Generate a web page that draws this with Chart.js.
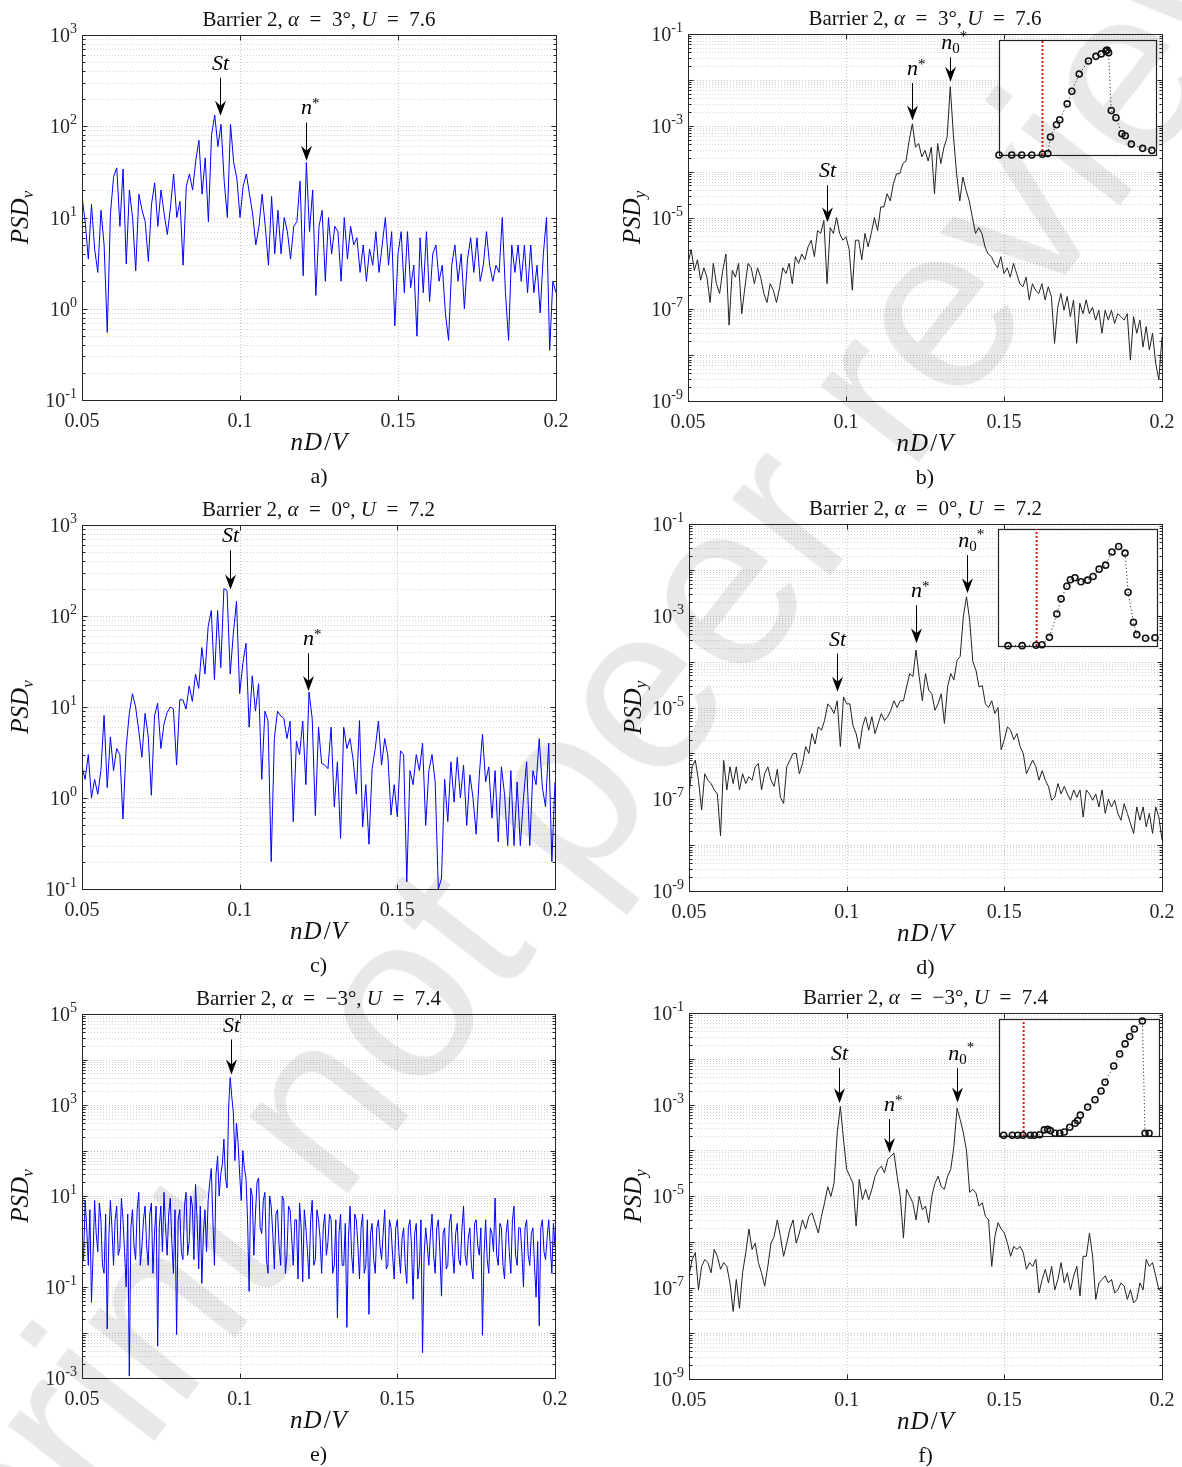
<!DOCTYPE html>
<html>
<head>
<meta charset="utf-8">
<script src="https://cdn.jsdelivr.net/npm/chart.js@4.4.1/dist/chart.umd.min.js"></script>
<style>
  body { margin: 0; background: #fff; }
  #page { position: relative; width: 1182px; height: 1467px; overflow: hidden; background: #fff; }
  #page canvas { position: absolute; }
  #wm {
    position: absolute; left: 575px; top: 770px;
    transform: translate(-50%, -50%) rotate(-52deg);
    font: 235px "Liberation Sans", Arial, sans-serif;
    color: rgba(0, 0, 0, 0.09); white-space: nowrap; pointer-events: none;
  }
</style>
</head>
<body>
<div id="page"></div>
<script>
/**
 * DATA
 */
// frequency bins nD/V used by spectra a-d and f
const freqBins = [
  0.050, 0.051, 0.052, 0.053, 0.054, 0.055, 0.056, 0.057, 0.058, 0.059,
  0.060, 0.061, 0.062, 0.063, 0.064, 0.065, 0.066, 0.067, 0.068, 0.069,
  0.070, 0.071, 0.072, 0.073, 0.074, 0.075, 0.076, 0.077, 0.078, 0.079,
  0.080, 0.081, 0.082, 0.083, 0.084, 0.085, 0.086, 0.087, 0.088, 0.089,
  0.090, 0.091, 0.092, 0.093, 0.094, 0.095, 0.096, 0.097, 0.098, 0.099,
  0.100, 0.101, 0.102, 0.103, 0.104, 0.105, 0.106, 0.107, 0.108, 0.109,
  0.110, 0.111, 0.112, 0.113, 0.114, 0.115, 0.116, 0.117, 0.118, 0.119,
  0.120, 0.121, 0.122, 0.123, 0.124, 0.125, 0.126, 0.127, 0.128, 0.129,
  0.130, 0.131, 0.132, 0.133, 0.134, 0.135, 0.136, 0.137, 0.138, 0.139,
  0.140, 0.141, 0.142, 0.143, 0.144, 0.145, 0.146, 0.147, 0.148, 0.149,
  0.150, 0.151, 0.152, 0.153, 0.154, 0.155, 0.156, 0.157, 0.158, 0.159,
  0.160, 0.161, 0.162, 0.163, 0.164, 0.165, 0.166, 0.167, 0.168, 0.169,
  0.170, 0.171, 0.172, 0.173, 0.174, 0.175, 0.176, 0.177, 0.178, 0.179,
  0.180, 0.181, 0.182, 0.183, 0.184, 0.185, 0.186, 0.187, 0.188, 0.189,
  0.190, 0.191, 0.192, 0.193, 0.194, 0.195, 0.196, 0.197, 0.198, 0.199,
  0.200
];

// finer bins for spectrum e (much denser trace)
const freqBinsFine = [
  0.0500, 0.0505, 0.0510, 0.0515, 0.0520, 0.0525, 0.0530, 0.0535, 0.0540, 0.0545,
  0.0550, 0.0555, 0.0560, 0.0565, 0.0570, 0.0575, 0.0580, 0.0585, 0.0590, 0.0595,
  0.0600, 0.0605, 0.0610, 0.0615, 0.0620, 0.0625, 0.0630, 0.0635, 0.0640, 0.0645,
  0.0650, 0.0655, 0.0660, 0.0665, 0.0670, 0.0675, 0.0680, 0.0685, 0.0690, 0.0695,
  0.0700, 0.0705, 0.0710, 0.0715, 0.0720, 0.0725, 0.0730, 0.0735, 0.0740, 0.0745,
  0.0750, 0.0755, 0.0760, 0.0765, 0.0770, 0.0775, 0.0780, 0.0785, 0.0790, 0.0795,
  0.0800, 0.0805, 0.0810, 0.0815, 0.0820, 0.0825, 0.0830, 0.0835, 0.0840, 0.0845,
  0.0850, 0.0855, 0.0860, 0.0865, 0.0870, 0.0875, 0.0880, 0.0885, 0.0890, 0.0895,
  0.0900, 0.0905, 0.0910, 0.0915, 0.0920, 0.0925, 0.0930, 0.0935, 0.0940, 0.0945,
  0.0950, 0.0955, 0.0960, 0.0965, 0.0970, 0.0975, 0.0980, 0.0985, 0.0990, 0.0995,
  0.1000, 0.1005, 0.1010, 0.1015, 0.1020, 0.1025, 0.1030, 0.1035, 0.1040, 0.1045,
  0.1050, 0.1055, 0.1060, 0.1065, 0.1070, 0.1075, 0.1080, 0.1085, 0.1090, 0.1095,
  0.1100, 0.1105, 0.1110, 0.1115, 0.1120, 0.1125, 0.1130, 0.1135, 0.1140, 0.1145,
  0.1150, 0.1155, 0.1160, 0.1165, 0.1170, 0.1175, 0.1180, 0.1185, 0.1190, 0.1195,
  0.1200, 0.1205, 0.1210, 0.1215, 0.1220, 0.1225, 0.1230, 0.1235, 0.1240, 0.1245,
  0.1250, 0.1255, 0.1260, 0.1265, 0.1270, 0.1275, 0.1280, 0.1285, 0.1290, 0.1295,
  0.1300, 0.1305, 0.1310, 0.1315, 0.1320, 0.1325, 0.1330, 0.1335, 0.1340, 0.1345,
  0.1350, 0.1355, 0.1360, 0.1365, 0.1370, 0.1375, 0.1380, 0.1385, 0.1390, 0.1395,
  0.1400, 0.1405, 0.1410, 0.1415, 0.1420, 0.1425, 0.1430, 0.1435, 0.1440, 0.1445,
  0.1450, 0.1455, 0.1460, 0.1465, 0.1470, 0.1475, 0.1480, 0.1485, 0.1490, 0.1495,
  0.1500, 0.1505, 0.1510, 0.1515, 0.1520, 0.1525, 0.1530, 0.1535, 0.1540, 0.1545,
  0.1550, 0.1555, 0.1560, 0.1565, 0.1570, 0.1575, 0.1580, 0.1585, 0.1590, 0.1595,
  0.1600, 0.1605, 0.1610, 0.1615, 0.1620, 0.1625, 0.1630, 0.1635, 0.1640, 0.1645,
  0.1650, 0.1655, 0.1660, 0.1665, 0.1670, 0.1675, 0.1680, 0.1685, 0.1690, 0.1695,
  0.1700, 0.1705, 0.1710, 0.1715, 0.1720, 0.1725, 0.1730, 0.1735, 0.1740, 0.1745,
  0.1750, 0.1755, 0.1760, 0.1765, 0.1770, 0.1775, 0.1780, 0.1785, 0.1790, 0.1795,
  0.1800, 0.1805, 0.1810, 0.1815, 0.1820, 0.1825, 0.1830, 0.1835, 0.1840, 0.1845,
  0.1850, 0.1855, 0.1860, 0.1865, 0.1870, 0.1875, 0.1880, 0.1885, 0.1890, 0.1895,
  0.1900, 0.1905, 0.1910, 0.1915, 0.1920, 0.1925, 0.1930, 0.1935, 0.1940, 0.1945,
  0.1950, 0.1955, 0.1960, 0.1965, 0.1970, 0.1975, 0.1980, 0.1985, 0.1990, 0.1995,
  0.2000
];

// a) PSD_v, alpha = 3
const psdA = [
  17, 9, 3.5, 14, 4.5, 2.5, 12, 5, 0.55, 11,
  28, 35, 8, 34, 3.1, 20, 10, 2.6, 18, 12,
  9, 3.3, 14, 24, 8, 20, 11, 6.5, 13, 30,
  10, 15, 3.0, 22, 30, 20, 42, 70, 18, 45,
  9, 80, 133, 60, 105, 25, 10, 105, 40, 27,
  10, 22, 30, 18, 11, 5, 8, 18, 8, 3.0,
  17, 4, 12, 4, 10, 7, 3.5, 8, 9, 25,
  2.3, 40, 7, 20, 1.4, 8, 12, 2, 10, 4,
  8, 7, 2.0, 10, 3.5, 8, 5, 6, 2.5, 5,
  2, 4.5, 3, 7, 2.5, 5, 10, 3, 7, 0.65,
  4, 7, 1.5, 7, 1.7, 3, 0.5, 6, 1.5, 7,
  1.2, 4, 5, 2, 3, 0.9, 0.45, 3, 5, 2,
  4, 1, 3.5, 6, 2.5, 6, 2, 3, 7, 3,
  2, 3, 2.5, 10, 1.5, 0.45, 5, 2.5, 5, 2,
  5, 1.5, 5, 1.5, 3, 0.9, 4, 10, 0.35, 2,
  1.5
];

// b) PSD_y, alpha = 3
const psdB = [
  1.0e-6, 2.0e-6, 7e-7, 1.2e-6, 4.3e-7, 8e-7, 5e-7, 1.4e-7, 1.0e-6, 3.6e-7,
  2.2e-7, 7e-7, 1.6e-6, 4.5e-8, 7e-7, 5e-7, 1.0e-6, 8e-8, 3e-7, 1.0e-6,
  8e-7, 3.6e-7, 8e-7, 5e-7, 2.2e-7, 1.4e-7, 3.6e-7, 2.6e-7, 1.4e-7, 3e-7,
  8e-7, 6e-7, 1.0e-6, 3.6e-7, 1.4e-6, 1.0e-6, 1.6e-6, 1.2e-6, 2.3e-6, 3.2e-6,
  1.4e-6, 5.2e-6, 4.5e-6, 8.7e-6, 3.6e-7, 6e-6, 4.5e-6, 1.0e-5, 4.5e-6, 3.2e-6,
  3.8e-6, 2.0e-6, 2.6e-7, 3.2e-6, 3.2e-6, 1.2e-6, 4.5e-6, 2.3e-6, 4.5e-6, 1.0e-5,
  5.2e-6, 1.7e-5, 1.7e-5, 3.3e-5, 2.3e-5, 5.5e-5, 9e-5, 9e-5, 1.5e-4, 1.7e-4,
  4.8e-4, 1.1e-3, 3.4e-4, 4.1e-4, 2.1e-4, 2.9e-4, 1.7e-4, 3.4e-4, 3.3e-5, 4.1e-4,
  1.5e-4, 3.4e-4, 5.6e-4, 7.1e-3, 6e-4, 9e-5, 2.3e-5, 7.6e-5, 3.9e-5, 2.3e-5,
  1.0e-5, 4.5e-6, 6e-6, 4.5e-6, 2.3e-6, 1.6e-6, 1.4e-6, 1.0e-6, 8e-7, 1.4e-6,
  6e-7, 8e-7, 5e-7, 1.0e-6, 6e-7, 3.6e-7, 3.1e-7, 5e-7, 1.6e-7, 3.6e-7,
  2.6e-7, 2.2e-7, 3.6e-7, 1.6e-7, 3.1e-7, 1.9e-7, 1.8e-8, 1.1e-7, 2.2e-7, 9.5e-8,
  1.9e-7, 6.9e-8, 1.6e-7, 1.8e-8, 1.35e-7, 8e-8, 1.6e-7, 8e-8, 1.1e-7, 5.8e-8,
  9.5e-8, 3e-8, 9.5e-8, 5.8e-8, 9.5e-8, 4.9e-8, 8e-8, 6.9e-8, 5.8e-8, 8e-8,
  7.8e-9, 6.9e-8, 3e-8, 5.8e-8, 1.5e-8, 4.2e-8, 1.3e-8, 3e-8, 6.6e-9, 2.9e-9,
  2.5e-8
];

// c) PSD_v, alpha = 0
const psdC = [
  2.2, 1.6, 3.0, 1.0, 1.6, 1.1, 2.0, 8.1, 1.3, 4.7,
  2.0, 3.5, 3.0, 0.59, 3.6, 8.5, 14, 10, 5.5, 2.8,
  8.5, 4.8, 1.07, 8.0, 11, 3.5, 6.5, 8.7, 10, 9.5,
  2.3, 12, 12, 9.5, 17, 11.5, 23, 16, 45, 23,
  76, 115, 20, 115, 27, 200, 190, 23, 65, 145,
  14, 30, 50, 6, 22, 9, 18, 1.6, 9, 7,
  0.2, 4.5, 9, 8, 7.5, 4.5, 7, 0.55, 4.2, 3.0,
  7, 1.4, 14.6, 7.5, 0.64, 6, 2.4, 2.3, 2.1, 6,
  0.8, 2.5, 0.36, 6, 3.5, 4.5, 2.6, 1.1, 7.1, 0.48,
  1.4, 0.31, 2.1, 3.5, 7, 2.3, 4.5, 2.9, 0.65, 1.4,
  0.62, 3.3, 3.0, 0.12, 2.0, 1.4, 3.0, 2.0, 4.0, 0.5,
  2.0, 3.0, 1.5, 0.1, 0.13, 1.6, 0.55, 2.5, 0.9, 2.8,
  1.0, 2.3, 0.5, 1.8, 1.0, 0.4, 1.8, 5.0, 1.5, 2.2,
  0.6, 2.0, 0.33, 2.2, 1.1, 0.3, 2.0, 0.3, 1.5, 0.3,
  1.0, 2.5, 0.3, 2.0, 1.4, 4.5, 1.3, 0.8, 4.0, 0.2,
  1.5
];

// d) PSD_y, alpha = 0
const psdD = [
  1.3e-7, 5.1e-7, 7.1e-7, 2.6e-7, 5.8e-8, 3.6e-7, 2.6e-7, 2.2e-7, 1.6e-7, 1.3e-7,
  1.6e-8, 7e-7, 1.6e-7, 5.1e-7, 2.2e-7, 5.1e-7, 1.6e-7, 3.6e-7, 2.2e-7, 3.1e-7,
  2.6e-7, 5.1e-7, 6e-7, 1.6e-7, 3.6e-7, 5.1e-7, 2.6e-7, 1.9e-7, 4.5e-7, 1.1e-7,
  8.1e-8, 5.1e-7, 7.1e-7, 1.0e-6, 1.0e-6, 3.6e-7, 6e-7, 1.4e-6, 1.0e-6, 2.7e-6,
  1.6e-6, 3.8e-6, 3.2e-6, 5.2e-6, 1.2e-5, 1.0e-5, 7.4e-6, 1.4e-5, 1.4e-6, 1.7e-5,
  1.2e-5, 1.2e-5, 4e-6, 2.7e-6, 1.26e-6, 3.8e-6, 6.3e-6, 3.2e-6, 6.3e-6, 2.7e-6,
  4.5e-6, 7.4e-6, 5.2e-6, 6.3e-6, 8.7e-6, 1.4e-5, 1.0e-5, 1.4e-5, 1.4e-5, 2.8e-5,
  5.5e-5, 4.7e-5, 1.8e-4, 4.7e-5, 1.4e-5, 5.5e-5, 2.4e-5, 2.0e-5, 8.7e-6, 1.2e-5,
  2.0e-5, 4.5e-6, 2.8e-5, 5.5e-5, 4.0e-5, 1.07e-4, 1.3e-4, 9.5e-4, 2.6e-3, 8.1e-4,
  1.0e-4, 6.5e-5, 2.8e-5, 3e-5, 1.2e-5, 1.0e-5, 1.4e-5, 7.4e-6, 1.0e-5, 1.2e-6,
  2.0e-6, 3.8e-6, 3.2e-6, 2.0e-6, 2.7e-6, 1.4e-6, 1.0e-6, 3.6e-7, 5.1e-7, 7.1e-7,
  5.1e-7, 2.6e-7, 4.2e-7, 2.6e-7, 1.9e-7, 9.5e-8, 1.1e-7, 2.2e-7, 1.3e-7, 1.9e-7,
  1.3e-7, 9.5e-8, 1.6e-7, 1.1e-7, 1.6e-7, 4.1e-8, 1.6e-7, 1.3e-7, 9.5e-8, 1.3e-7,
  6.8e-8, 1.6e-7, 4.9e-8, 1.0e-7, 6.8e-8, 9.5e-8, 4.9e-8, 3.5e-8, 8e-8, 4.9e-8,
  3.0e-8, 1.8e-8, 6.8e-8, 3.5e-8, 6.8e-8, 2.5e-8, 4.9e-8, 1.8e-8, 6.8e-8, 4.1e-8,
  1.3e-8
];

// e) PSD_v, alpha = -3 (on freqBinsFine)
const psdE = [
  1.1, 0.4, 8, 2, 0.3, 5, 0.046, 0.5, 8, 1.5,
  0.6, 7, 3, 0.3, 0.2, 4, 0.012, 1.2, 8, 2,
  0.3, 3, 6, 0.5, 0.7, 9, 3, 0.6, 0.1, 4,
  0.0011, 2, 5, 0.8, 0.4, 5, 12, 0.3, 0.8, 3,
  6, 0.8, 0.3, 4, 7, 0.2, 1.5, 6, 0.005, 2,
  6, 0.6, 12, 2, 0.5, 4, 9, 0.9, 0.2, 5,
  0.009, 3, 5, 0.6, 0.4, 6, 12, 0.5, 1.0, 10,
  6, 0.4, 18, 3, 0.25, 6, 0.12, 1.5, 5, 0.6,
  8, 20, 40, 3, 0.3, 30, 76, 10, 30, 50,
  177, 25, 15, 900, 4000, 1500, 680, 60, 400, 150,
  30, 8, 100, 40, 25, 3, 0.08, 15, 10, 0.5,
  4, 20, 25, 2, 1.5, 8, 12, 0.4, 0.2, 10,
  6, 1.5, 0.25, 4, 5, 0.8, 0.3, 10, 8, 0.2,
  0.5, 6, 5, 1.2, 0.3, 3, 3, 0.15, 7, 2,
  0.13, 5, 2, 0.6, 0.15, 3, 8, 0.3, 0.4, 5,
  3, 1.2, 0.2, 2, 4, 0.5, 1.0, 4, 3, 0.2,
  0.3, 3, 0.021, 1.5, 4, 0.3, 0.3, 2.5, 0.013, 1.2,
  6, 0.5, 0.2, 4, 3, 0.8, 0.15, 2, 4, 0.2,
  0.3, 3, 0.025, 1.5, 2.5, 0.4, 0.2, 2, 3, 0.8,
  0.4, 1.5, 5, 0.25, 0.3, 3, 2, 0.5, 0.15, 2,
  3, 0.6, 0.2, 1.2, 2, 0.3, 0.12, 2, 3, 0.8,
  0.054, 1.5, 2.5, 0.15, 0.3, 3, 0.0036, 0.5, 2, 0.8,
  0.3, 1.5, 4, 0.5, 0.2, 2, 3, 0.6, 0.063, 1.5,
  2, 0.25, 0.3, 2.5, 4, 0.6, 0.2, 1.5, 2.5, 0.4,
  0.3, 2, 6, 0.5, 0.3, 1.2, 2, 0.3, 0.15, 2.5,
  3, 0.8, 0.5, 2, 0.0087, 0.5, 3, 0.4, 0.2, 2,
  1.5, 0.6, 9, 0.5, 0.3, 2.5, 2, 0.3, 0.15, 1.5,
  3, 0.6, 0.2, 3, 6, 0.5, 0.3, 2, 2, 0.6,
  0.1, 2, 3, 0.5, 0.3, 1.5, 2, 0.3, 0.06, 1.0,
  0.014, 2, 3, 0.6, 0.4, 1.2, 3, 0.8, 0.2, 2.5,
  0.8
];

// f) PSD_y, alpha = -3
const psdF = [
  1.8e-7, 4.1e-7, 5.8e-7, 8.9e-8, 2.9e-7, 4.1e-7, 3.5e-7, 2.1e-7, 6.8e-7, 4.8e-7,
  2.5e-7, 3.5e-7, 2.9e-7, 1.26e-7, 3.0e-8, 1.5e-7, 3.5e-8, 2.1e-7, 5.8e-7, 1.9e-6,
  6.8e-7, 9.3e-7, 3.5e-7, 2.1e-7, 1.07e-7, 2.9e-7, 9.3e-7, 1.3e-6, 3.0e-6, 1.3e-6,
  4.8e-7, 9.3e-7, 1.9e-6, 3.0e-6, 9.3e-7, 1.55e-6, 3.0e-6, 1.9e-6, 3.6e-6, 4.3e-6,
  2.6e-6, 1.55e-6, 3.6e-6, 7.1e-6, 1.6e-5, 9.8e-6, 1.9e-5, 2.4e-4, 9.1e-4, 1.7e-4,
  3.8e-5, 2.7e-5, 1.9e-5, 2.2e-6, 2.3e-5, 8.3e-6, 1.4e-5, 8.3e-6, 1.4e-5, 2.7e-5,
  3.8e-5, 4.5e-5, 3.2e-5, 6.3e-5, 7.4e-5, 8.7e-5, 2.7e-5, 9.8e-6, 1.2e-6, 1.4e-5,
  9.8e-6, 7.1e-6, 3.0e-6, 9.8e-6, 5.0e-6, 6.0e-6, 2.6e-6, 9.8e-6, 1.9e-5, 2.7e-5,
  1.6e-5, 1.4e-5, 2.7e-5, 3.8e-5, 1.2e-4, 8.3e-4, 4.7e-4, 2.4e-4, 1.0e-4, 1.2e-5,
  1.4e-5, 1.17e-5, 6.0e-6, 7.1e-6, 3.6e-6, 3.0e-6, 2.9e-7, 1.3e-6, 2.6e-6, 1.9e-6,
  1.55e-6, 9.3e-7, 4.8e-7, 7.9e-7, 6.8e-7, 7.9e-7, 5.8e-7, 2.5e-7, 3.5e-7, 2.9e-7,
  4.1e-7, 7.6e-8, 1.5e-7, 2.5e-7, 1.26e-7, 2.9e-7, 8.9e-8, 1.5e-7, 3.5e-7, 1.26e-7,
  2.1e-7, 8.9e-8, 1.8e-7, 2.9e-7, 6.5e-8, 4.8e-7, 4.8e-7, 1.55e-6, 4.8e-7, 5.5e-8,
  1.26e-7, 1.5e-7, 1.8e-7, 1.26e-7, 1.5e-7, 7.6e-8, 8.9e-8, 1.26e-7, 1.07e-7, 5.5e-8,
  8.9e-8, 4.6e-8, 5.5e-8, 1.26e-7, 8.9e-8, 4.1e-7, 2.9e-7, 3.5e-7, 1.8e-7, 8.9e-8,
  1.07e-7
];

// arrow annotations: label, frequency, arrow tail and tip values
const markA = [
  { label: "St", x: 0.0937, tail: 340, tip: 130 },
  { label: "n*", x: 0.1208, tail: 110, tip: 42 }
];
const markB = [
  { label: "St", x: 0.0940, tail: 5.0e-5, tip: 7.9e-6 },
  { label: "n*", x: 0.1208, tail: 8.5e-3, tip: 1.3e-3 },
  { label: "n0*", x: 0.1328, tail: 3.1e-2, tip: 9.1e-3 }
];
const markC = [
  { label: "St", x: 0.0970, tail: 525, tip: 195 },
  { label: "n*", x: 0.1218, tail: 39, tip: 15 }
];
const markD = [
  { label: "St", x: 0.0969, tail: 1.5e-4, tip: 2.2e-5 },
  { label: "n*", x: 0.1220, tail: 1.7e-3, tip: 2.5e-4 },
  { label: "n0*", x: 0.1381, tail: 2.1e-2, tip: 3.1e-3 }
];
const markE = [
  { label: "St", x: 0.0973, tail: 27500, tip: 4700 }
];
const markF = [
  { label: "St", x: 0.0976, tail: 6.3e-3, tip: 1.07e-3 },
  { label: "n*", x: 0.1135, tail: 4.8e-4, tip: 8.7e-5 },
  { label: "n0*", x: 0.1349, tail: 6.3e-3, tip: 1.1e-3 }
];

// insets (arbitrary units 0..100)
const insetBx = [0, 8.1, 14.5, 20.9, 27.7, 31.1, 32.8, 36.6, 38.7, 43.4, 46.4, 51.1, 57.0, 61.7, 65.1, 68.1, 68.9, 69.8, 71.5, 74.5, 78.3, 80.4, 84.3, 91.5, 97.4];
const insetBy = [0, 0, 0, 0, 0.6, 1.2, 15.6, 26.3, 30.6, 44.5, 55.5, 70.5, 81.8, 85.8, 87.9, 90.5, 91.3, 89, 38.7, 32.4, 18.5, 16.8, 9.5, 5.8, 4.0];
const insetBcut = 27.7;
const insetDx = [6.3, 15.2, 23.9, 27.7, 32.3, 37.0, 39.7, 43.3, 45.5, 48.4, 52.2, 56.4, 59.8, 63.6, 67.7, 71.7, 75.9, 79.9, 81.8, 85.2, 87.3, 92.8, 98.7];
const insetDy = [0.3, 0.3, 0.6, 1.1, 7.4, 27.4, 40.3, 51.1, 56.6, 58.3, 54.9, 56.3, 59.4, 65.7, 69.1, 80.3, 85.1, 79.4, 46.0, 20.3, 9.7, 6.6, 7.1];
const insetDcut = 24.3;
const insetFx = [2.9, 8.3, 11.7, 15.0, 19.6, 22.1, 25.4, 28.3, 30.4, 32.1, 35.0, 37.9, 40.8, 44.2, 47.5, 49.2, 50.8, 55.4, 60.0, 63.8, 66.3, 71.7, 75.4, 78.8, 81.7, 84.6, 89.6, 91.3, 93.8];
const insetFy = [0.6, 0.6, 0.6, 0.6, 0.6, 0.6, 1.1, 5.2, 5.7, 4.6, 2.3, 2.3, 3.4, 7.5, 10.9, 13.2, 17.8, 24.7, 31.0, 38.5, 46.0, 59.8, 70.1, 78.7, 85.1, 91.4, 98.3, 2.3, 2.3];
const insetFcut = 15.4;
const insetRange = [0, 100];

// tick labels
const xTicks = [0.05, 0.1, 0.15, 0.2];
const xTickLabels = ["0.05", "0.1", "0.15", "0.2"];
const yExpV = [3, 2, 1, 0, -1];
const yExpY = [-1, -3, -5, -7, -9];
const yExpE = [5, 3, 1, -1, -3];

// titles
const titleAlpha = ["3", "3", "0", "0", "\u22123", "\u22123"];
const titleU = ["7.6", "7.6", "7.2", "7.2", "7.4", "7.4"];
const panelLetters = ["a)", "b)", "c)", "d)", "e)", "f)"];


/**
 * LAYOUT
 */
const SERIF = '"Liberation Serif", "Times New Roman", serif';
const INK = "#262626";
const roman = (s) => `${s}px ${SERIF}`;
const ital = (s) => `italic ${s}px ${SERIF}`;
const EQ = "\u2002=\u2002";

const panels = [
  { bins: freqBins, psd: psdA, marks: markA, yMin: 1e-1, yMax: 1e3, yExp: yExpV, sub: "v", color: "#0000ff",
    cell: [0, 0, 591, 490], plot: [82, 35, 556, 400], ylabOff: 62 },
  { bins: freqBins, psd: psdB, marks: markB, yMin: 1e-9, yMax: 1e-1, yExp: yExpY, sub: "y", color: "#222",
    cell: [591, 0, 591, 490], plot: [688, 34, 1162, 401], ylabOff: 56 },
  { bins: freqBins, psd: psdC, marks: markC, yMin: 1e-1, yMax: 1e3, yExp: yExpV, sub: "v", color: "#0000ff",
    cell: [0, 490, 591, 490], plot: [82, 525, 555, 889], ylabOff: 62 },
  { bins: freqBins, psd: psdD, marks: markD, yMin: 1e-9, yMax: 1e-1, yExp: yExpY, sub: "y", color: "#222",
    cell: [591, 490, 591, 490], plot: [689, 524, 1162, 891], ylabOff: 56 },
  { bins: freqBinsFine, psd: psdE, marks: markE, yMin: 1e-3, yMax: 1e5, yExp: yExpE, sub: "v", color: "#0000ff",
    cell: [0, 980, 591, 487], plot: [82, 1014, 555, 1378], ylabOff: 62 },
  { bins: freqBins, psd: psdF, marks: markF, yMin: 1e-9, yMax: 1e-1, yExp: yExpY, sub: "y", color: "#222",
    cell: [591, 980, 591, 487], plot: [689, 1013, 1162, 1379], ylabOff: 56 }
];

const insets = [
  { xs: insetBx, ys: insetBy, cut: insetBcut, box: [999, 40, 1156, 155] },
  { xs: insetDx, ys: insetDy, cut: insetDcut, box: [998, 529, 1157, 646] },
  { xs: insetFx, ys: insetFy, cut: insetFcut, box: [999, 1019, 1159, 1136] }
];


/**
 * AUX
 */
const seg = (ctx, x0, y0, x1, y1) => {
  ctx.beginPath(); ctx.moveTo(x0, y0); ctx.lineTo(x1, y1); ctx.stroke();
};

// draws text made of pieces with their own font / vertical shift / gap
const drawRich = (ctx, parts, x, y, align, anchorN) => {
  const widths = parts.map(p => { ctx.font = p.font; return ctx.measureText(p.t).width + (p.gap || 0); });
  const total = widths.reduce((s, w) => s + w, 0);
  const anchorW = anchorN ? widths.slice(0, anchorN).reduce((s, w) => s + w, 0) : total;
  let cx = align === "center" ? x - anchorW / 2 : align === "right" ? x - total : x;
  ctx.textAlign = "left";
  parts.forEach((p, i) => {
    ctx.font = p.font;
    ctx.fillText(p.t, cx, y + (p.dy || 0));
    cx += widths[i];
  });
};

const markParts = (label) => {
  if (label === "St") return [[{ t: "St", font: ital(22) }], 1];
  if (label === "n*") return [[{ t: "n", font: ital(22) }, { t: "*", font: roman(15), dy: -6 }], 1];
  return [[{ t: "n", font: ital(22) }, { t: "0", font: roman(15), dy: 4 }, { t: "*", font: roman(15), dy: -8 }], 2];
};

const axesPlugin = (p, idx) => ({
  id: "matlabAxes",
  beforeDatasetsDraw(chart) {
    const { ctx, chartArea: { left, right, top, bottom }, scales: { x, y } } = chart;
    ctx.save();
    ctx.lineWidth = 1;
    ctx.setLineDash([1, 2]);
    ctx.strokeStyle = "rgba(0,0,0,0.22)";
    xTicks.forEach(v => {
      const px = Math.round(x.getPixelForValue(v)) + 0.5;
      if (px > left + 2 && px < right - 2) seg(ctx, px, top, px, bottom);
    });
    const e0 = Math.round(Math.log10(p.yMin)), e1 = Math.round(Math.log10(p.yMax));
    for (let e = e0; e < e1; e++) {
      for (let m = 1; m < 10; m++) {
        const py = Math.round(y.getPixelForValue(m * Math.pow(10, e))) + 0.5;
        if (py <= top + 1 || py >= bottom - 1) continue;
        ctx.strokeStyle = m === 1 ? "rgba(0,0,0,0.24)" : "rgba(0,0,0,0.17)";
        seg(ctx, left, py, right, py);
      }
    }
    ctx.restore();
  },
  afterDatasetsDraw(chart) {
    const { ctx, chartArea: { left, right, top, bottom }, scales: { x, y } } = chart;
    const L = Math.round(left) + 0.5, R = Math.round(right) + 0.5;
    const T = Math.round(top) + 0.5, B = Math.round(bottom) + 0.5;
    ctx.save();
    ctx.setLineDash([]);
    ctx.lineWidth = 1;
    ctx.strokeStyle = INK;
    ctx.strokeRect(L, T, R - L, B - T);

    // ticks
    xTicks.forEach(v => {
      const px = Math.round(x.getPixelForValue(v)) + 0.5;
      seg(ctx, px, B, px, B - 5);
      seg(ctx, px, T, px, T + 5);
    });
    const e0 = Math.round(Math.log10(p.yMin)), e1 = Math.round(Math.log10(p.yMax));
    for (let e = e0; e <= e1; e++) {
      for (let m = 1; m < 10; m++) {
        if (e === e1 && m > 1) break;
        const py = Math.round(y.getPixelForValue(m * Math.pow(10, e))) + 0.5;
        const len = m === 1 ? 5 : 3;
        seg(ctx, L, py, L + len, py);
        seg(ctx, R, py, R - len, py);
      }
    }

    // tick labels
    ctx.fillStyle = INK;
    ctx.font = roman(20);
    ctx.textAlign = "center";
    ctx.textBaseline = "alphabetic";
    xTicks.forEach((v, i) => ctx.fillText(xTickLabels[i], x.getPixelForValue(v), B + 26));
    p.yExp.forEach(ex => {
      const py = y.getPixelForValue(Math.pow(10, ex));
      drawRich(ctx, [{ t: "10", font: roman(20) }, { t: String(ex), font: roman(14), dy: -9 }], left - 5, py + 7, "right");
    });

    // arrows with labels
    ctx.fillStyle = "#000";
    ctx.strokeStyle = "#000";
    p.marks.forEach(mk => {
      const px = Math.round(x.getPixelForValue(mk.x)) + 0.5;
      const pTip = y.getPixelForValue(mk.tip), pTail = y.getPixelForValue(mk.tail);
      seg(ctx, px, pTail, px, pTip - 9);
      ctx.beginPath();
      ctx.moveTo(px, pTip);
      ctx.lineTo(px - 5.5, pTip - 15);
      ctx.lineTo(px, pTip - 10);
      ctx.lineTo(px + 5.5, pTip - 15);
      ctx.closePath();
      ctx.fill();
      const [parts, anchorN] = markParts(mk.label);
      drawRich(ctx, parts, px, pTail - 8, "center", anchorN);
    });

    // title, axis labels, panel letter
    const cx = (left + right) / 2;
    ctx.fillStyle = "#111";
    drawRich(ctx, [
      { t: "Barrier 2, ", font: roman(21) },
      { t: "\u03b1", font: ital(21) },
      { t: EQ + titleAlpha[idx] + "\u00b0, ", font: roman(21) },
      { t: "U", font: ital(21) },
      { t: EQ + titleU[idx], font: roman(21) }
    ], cx, top - 9, "center");
    drawRich(ctx, [
      { t: "n", font: ital(25), gap: 1 }, { t: "D", font: ital(25), gap: 2 },
      { t: "/", font: roman(25), gap: 1 }, { t: "V", font: ital(25) }
    ], cx, bottom + 50, "center");
    ctx.font = roman(22);
    ctx.textAlign = "center";
    ctx.fillText(panelLetters[idx], cx, bottom + 83);

    ctx.translate(left - p.ylabOff, (top + bottom) / 2);
    ctx.rotate(-Math.PI / 2);
    drawRich(ctx, [
      { t: "PSD", font: ital(25) }, { t: p.sub, font: ital(17), dy: 5 }
    ], 0, 8, "center");
    ctx.restore();
  }
});

const insetFrame = {
  id: "insetFrame",
  beforeDatasetsDraw(chart) {
    const { ctx, chartArea: { left, right, top, bottom } } = chart;
    ctx.save();
    ctx.fillStyle = "#fff";
    ctx.fillRect(left, top, right - left, bottom - top);
    ctx.strokeStyle = "#222";
    ctx.lineWidth = 1.2;
    ctx.strokeRect(Math.round(left) + 0.5, Math.round(top) + 0.5, Math.round(right - left), Math.round(bottom - top));
    ctx.restore();
  }
};

const addCanvas = (left, top, w, h) => {
  const cv = document.createElement("canvas");
  cv.width = w; cv.height = h;
  cv.style.left = left + "px"; cv.style.top = top + "px";
  cv.style.width = w + "px"; cv.style.height = h + "px";
  document.getElementById("page").appendChild(cv);
  return cv;
};

const setPanel = (p, idx) => {
  const [cl, ct, cw, ch] = p.cell;
  const [x0, y0, x1, y1] = p.plot;
  return new Chart(addCanvas(cl, ct, cw, ch), {
    type: "line",
    data: {
      datasets: [{
        data: p.bins.map((f, i) => ({ x: f, y: p.psd[i] })),
        borderColor: p.color,
        borderWidth: 1,
        pointRadius: 0,
        tension: 0
      }]
    },
    options: {
      responsive: false, animation: false, events: [],
      layout: { padding: { left: x0 - cl, top: y0 - ct, right: cl + cw - x1, bottom: ct + ch - y1 } },
      plugins: { legend: { display: false }, tooltip: { enabled: false } },
      scales: {
        x: { type: "linear", min: 0.05, max: 0.2, display: false },
        y: { type: "logarithmic", min: p.yMin, max: p.yMax, display: false }
      }
    },
    plugins: [axesPlugin(p, idx)]
  });
};

const setInset = (ins) => {
  const pad = 6;
  const [x0, y0, x1, y1] = ins.box;
  return new Chart(addCanvas(x0 - pad, y0 - pad, x1 - x0 + 2 * pad, y1 - y0 + 2 * pad), {
    type: "line",
    data: {
      datasets: [
        {
          data: ins.xs.map((v, i) => ({ x: v, y: ins.ys[i] })),
          borderColor: "#111", borderWidth: 1, borderDash: [1, 2.5],
          pointRadius: 3, pointBorderWidth: 1.6, pointBorderColor: "#111",
          pointBackgroundColor: "rgba(255,255,255,0)", clip: false, tension: 0
        },
        {
          data: [{ x: ins.cut, y: insetRange[0] }, { x: ins.cut, y: insetRange[1] }],
          borderColor: "#e41a1a", borderWidth: 2, borderDash: [2, 2], pointRadius: 0
        }
      ]
    },
    options: {
      responsive: false, animation: false, events: [],
      layout: { padding: pad },
      plugins: { legend: { display: false }, tooltip: { enabled: false } },
      scales: {
        x: { type: "linear", min: insetRange[0], max: insetRange[1], display: false },
        y: { type: "linear", min: insetRange[0], max: insetRange[1], display: false }
      }
    },
    plugins: [insetFrame]
  });
};

//Executed when document is ready
document.addEventListener("DOMContentLoaded", () => {
  panels.forEach(setPanel);
  insets.forEach(setInset);
  const wm = document.createElement("div");
  wm.id = "wm";
  wm.textContent = "Preprint not peer reviewed";
  document.getElementById("page").appendChild(wm);
});
</script>
</body>
</html>
